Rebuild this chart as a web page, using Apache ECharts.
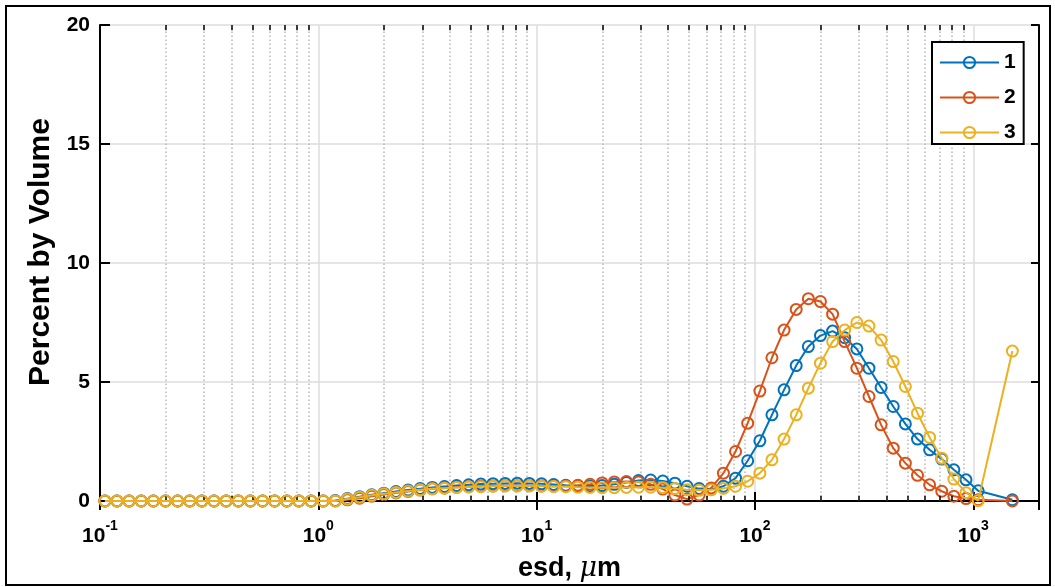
<!DOCTYPE html>
<html lang="en">
<head>
  <meta charset="UTF-8">
  <title>esd distribution</title>
  <style>
      html, body {
          margin: 0;
          padding: 0;
          background: #fff;
      }
      #chart {
          width: 1055px;
          height: 587px;
      }
  </style>
</head>
<body>
<div id="chart"></div>

<script src="https://cdn.jsdelivr.net/npm/echarts@6/dist/echarts.min.js"></script>
<script>

  // size bins (esd, um), last one is the oversize bin
  const sizes = [
    0.1053, 0.1196, 0.1359, 0.1545, 0.1756, 0.1995, 0.2268, 0.2577, 0.2929, 0.3328,
    0.3783, 0.4299, 0.4885, 0.5552, 0.6310, 0.7171, 0.8149, 0.9261,
    1.053, 1.196, 1.359, 1.545, 1.756, 1.995, 2.268, 2.577, 2.929, 3.328,
    3.783, 4.299, 4.885, 5.552, 6.310, 7.171, 8.149, 9.261,
    10.53, 11.96, 13.59, 15.45, 17.56, 19.95, 22.68, 25.77, 29.29, 33.28,
    37.83, 42.99, 48.85, 55.52, 63.10, 71.71, 81.49, 92.61,
    105.3, 119.6, 135.9, 154.5, 175.6, 199.5, 226.8, 257.7, 292.9, 332.8,
    378.3, 429.9, 488.5, 555.2, 631.0, 717.1, 814.9, 926.1,
    1053, 1510
  ];

  const series1 = [
    0, 0, 0, 0, 0, 0, 0, 0, 0, 0, 0, 0, 0, 0, 0, 0, 0, 0,
    0, 0.02, 0.10, 0.18, 0.26, 0.33, 0.40, 0.46, 0.52, 0.57,
    0.61, 0.65, 0.68, 0.71, 0.73, 0.74, 0.75, 0.74,
    0.72, 0.69, 0.66, 0.64, 0.63, 0.65, 0.70, 0.78, 0.86, 0.88,
    0.84, 0.75, 0.62, 0.52, 0.50, 0.62, 0.96, 1.69,
    2.53, 3.62, 4.67, 5.69, 6.49, 6.95, 7.14, 6.86, 6.39, 5.58,
    4.77, 3.97, 3.24, 2.60, 2.15, 1.76, 1.31, 0.89,
    0.43, 0.05
  ];

  const series2 = [
    0, 0, 0, 0, 0, 0, 0, 0, 0, 0, 0, 0, 0, 0, 0, 0, 0, 0,
    0, 0, 0.05, 0.12, 0.20, 0.27, 0.34, 0.40, 0.46, 0.51,
    0.55, 0.58, 0.60, 0.62, 0.63, 0.64, 0.64, 0.64,
    0.63, 0.62, 0.63, 0.66, 0.70, 0.76, 0.80, 0.82, 0.80, 0.70,
    0.50, 0.25, 0.08, 0.25, 0.55, 1.17, 2.08, 3.27,
    4.62, 6.02, 7.18, 8.05, 8.50, 8.38, 7.85, 6.70, 5.58, 4.39,
    3.20, 2.22, 1.59, 1.08, 0.68, 0.41, 0.20, 0.10,
    0.05, 0
  ];

  const series3 = [
    0, 0, 0, 0, 0, 0, 0, 0, 0, 0, 0, 0, 0, 0, 0, 0, 0, 0,
    0, 0, 0.08, 0.16, 0.24, 0.30, 0.36, 0.42, 0.47, 0.51,
    0.54, 0.57, 0.59, 0.60, 0.62, 0.63, 0.63, 0.63,
    0.62, 0.61, 0.60, 0.58, 0.57, 0.56, 0.56, 0.57, 0.58, 0.58,
    0.56, 0.52, 0.47, 0.45, 0.47, 0.53, 0.62, 0.83,
    1.17, 1.73, 2.60, 3.62, 4.74, 5.79, 6.70, 7.18, 7.50, 7.35,
    6.76, 5.86, 4.81, 3.69, 2.67, 1.80, 0.92, 0.35,
    0.01, 6.30
  ];

  const names = ['1', '2', '3'];
  const colors = ['#0072BD', '#D95319', '#EDB120'];
  const yTicks = [0, 5, 10, 15, 20];

  // minor log ticks 2..9 in each decade
  const minorTicks = [];
  [0.1, 1, 10, 100].forEach(function (d) {
    for (let m = 2; m <= 9; m++) minorTicks.push(+(d * m).toPrecision(3));
  });

  const font = '"Liberation Sans", Arial, Helvetica, sans-serif';

  function pairs(ys) {
    return sizes.map(function (x, i) { return [x, ys[i]]; });
  }

  function supLabel(v) {
    const p = Math.round(Math.log10(v));
    if (Math.abs(Math.pow(10, p) - v) > v * 1e-6) return '';
    return '{b|10}{s|' + p + '}';
  }

  const lineSeries = [series1, series2, series3].map(function (ys, i) {
    return {
      name: names[i],
      type: 'line',
      data: pairs(ys),
      symbol: 'circle',
      symbolSize: 11,
      lineStyle: { color: colors[i], width: 2 },
      itemStyle: { color: 'rgba(255,255,255,0)', borderColor: colors[i], borderWidth: 2 },
      z: 3 + i
    };
  });

  // dotted minor grid and minor tick marks, placed through the axis scales
  const minorGrid = minorTicks.map(function (v) {
    return [{ coord: [v, 0] }, { coord: [v, 20] }];
  });
  const minorTickMarks = [];
  minorTicks.forEach(function (v) {
    minorTickMarks.push([{ coord: [v, 0] }, { coord: [v, 0.22] }]);
    minorTickMarks.push([{ coord: [v, 20] }, { coord: [v, 19.78] }]);
  });

  const helpers = [
    {
      name: 'minorGrid',
      type: 'line',
      data: [],
      silent: true,
      z: 1,
      markLine: {
        silent: true,
        symbol: ['none', 'none'],
        label: { show: false },
        z: 1,
        lineStyle: { color: '#b8b8b8', width: 1.5, type: [1.5, 2.5] },
        emphasis: { disabled: true },
        data: minorGrid
      }
    },
    {
      name: 'minorTicks',
      type: 'line',
      data: [],
      silent: true,
      z: 6,
      markLine: {
        silent: true,
        symbol: ['none', 'none'],
        label: { show: false },
        lineStyle: { color: '#000', width: 1.5, type: 'solid' },
        emphasis: { disabled: true },
        data: minorTickMarks
      }
    }
  ];

  const option = {
    animation: false,
    backgroundColor: '#fff',
    textStyle: { fontFamily: font },
    grid: { left: 100, top: 25, right: 16, bottom: 84 },
    legend: {
      data: names,
      orient: 'vertical',
      left: 932,
      top: 42,
      padding: [10, 8, 1, 7],
      itemWidth: 59,
      itemHeight: 14,
      itemGap: 14,
      backgroundColor: '#fff',
      borderColor: '#000',
      borderWidth: 2,
      textStyle: { fontSize: 21, fontWeight: 'bold', color: '#000', fontFamily: font, lineHeight: 20 }
    },
    graphic: [{
      type: 'rect',
      shape: { x: 6, y: 6, width: 1044, height: 579 },
      style: { fill: 'none', stroke: '#000', lineWidth: 2 },
      silent: true,
      z: 100
    }],
    xAxis: [
      {
        type: 'log',
        logBase: 10,
        min: 0.1,
        max: 2000,
        position: 'bottom',
        name: 'esd, {i|μ}m',
        nameLocation: 'middle',
        nameGap: 54,
        nameTextStyle: {
          fontSize: 27, fontWeight: 'bold', color: '#000', fontFamily: font,
          rich: { i: { fontSize: 27, fontStyle: 'italic', fontWeight: 'normal', fontFamily: '"DejaVu Serif", serif', color: '#000' } }
        },
        axisLine: { show: true, lineStyle: { color: '#000', width: 2 } },
        axisTick: { show: true, inside: true, length: 9, lineStyle: { color: '#000', width: 2 } },
        splitLine: { show: true, lineStyle: { color: '#dcdcdc', width: 1.5 } },
        axisLabel: {
          margin: 18,
          color: '#000',
          formatter: supLabel,
          rich: {
            b: { fontSize: 21, fontWeight: 'bold', fontFamily: font, color: '#000', lineHeight: 28, verticalAlign: 'bottom' },
            s: { fontSize: 14, fontWeight: 'bold', fontFamily: font, color: '#000', lineHeight: 28, verticalAlign: 'top' }
          }
        }
      },
      {
        type: 'log',
        logBase: 10,
        min: 0.1,
        max: 2000,
        position: 'top',
        axisLine: { show: true, lineStyle: { color: '#000', width: 2 } },
        axisTick: { show: true, inside: true, length: 9, lineStyle: { color: '#000', width: 2 } },
        axisLabel: { show: false },
        splitLine: { show: false }
      }
    ],
    yAxis: [
      {
        type: 'value',
        min: 0,
        max: 20,
        interval: 5,
        position: 'left',
        name: 'Percent by Volume',
        nameLocation: 'middle',
        nameGap: 40,
        nameTextStyle: { fontSize: 30, fontWeight: 'bold', color: '#000', fontFamily: font, padding: [0, 0, 0, 22] },
        axisLine: { show: true, lineStyle: { color: '#000', width: 2 } },
        axisTick: { show: true, inside: true, length: 10, lineStyle: { color: '#000', width: 2 } },
        splitLine: { show: true, lineStyle: { color: '#dcdcdc', width: 1.5 } },
        axisLabel: {
          margin: 10,
          fontSize: 21,
          fontWeight: 'bold',
          color: '#000',
          fontFamily: font,
          formatter: function (v) { return yTicks.indexOf(v) >= 0 ? String(v) : ''; }
        }
      },
      {
        type: 'value',
        min: 0,
        max: 20,
        interval: 5,
        position: 'right',
        axisLine: { show: true, lineStyle: { color: '#000', width: 2 } },
        axisTick: { show: true, inside: true, length: 8, lineStyle: { color: '#000', width: 2 } },
        axisLabel: { show: false },
        splitLine: { show: false }
      }
    ],
    series: helpers.concat(lineSeries)
  };

  const chart = echarts.init(document.getElementById('chart'), null, { renderer: 'canvas' });
  chart.setOption(option);

</script>
</body>
</html>
